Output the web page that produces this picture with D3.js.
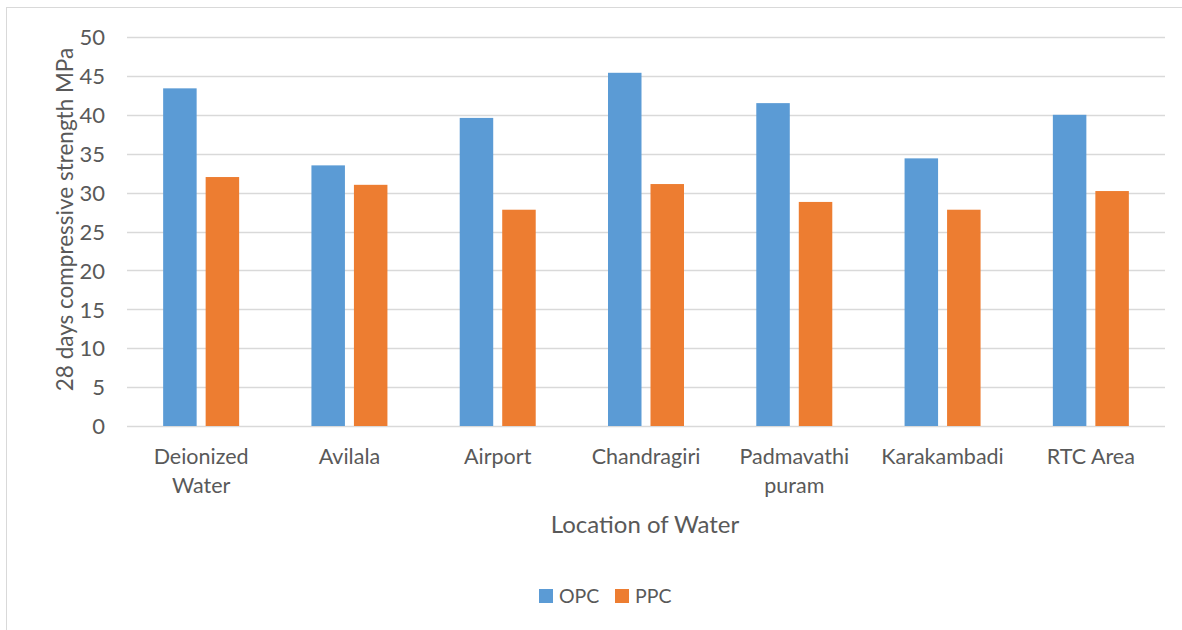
<!DOCTYPE html>
<html>
<head>
<meta charset="utf-8">
<script src="https://cdn.jsdelivr.net/npm/d3@7"></script>
<style>
  html, body { margin: 0; padding: 0; background: #fff; }
  svg { display: block; font-family: Lato, "Open Sans", sans-serif; }
</style>
</head>
<body>
<svg id="chart" width="1182" height="630"></svg>
<script>
// Categories, series and axis ticks
const locations = [["Deionized", "Water"], ["Avilala"], ["Airport"], ["Chandragiri"], ["Padmavathi", "puram"], ["Karakambadi"], ["RTC Area"]];
const seriesNames = ["OPC", "PPC"];
const opcValues = [43.4, 33.5, 39.6, 45.4, 41.5, 34.4, 40.0];
const ppcValues = [32.0, 31.0, 27.8, 31.1, 28.8, 27.8, 30.2];
const yTicks = [0, 5, 10, 15, 20, 25, 30, 35, 40, 45, 50];
const colors = ["#5b9bd5", "#ed7d31"];

const svg = d3.select("#chart");
const plot = { left: 127, right: 1165, top: 37, bottom: 426 };
const textColor = "#595959";

// Outer chart frame
svg.append("rect")
  .attr("x", 6.5).attr("y", 7.5)
  .attr("width", 1182).attr("height", 640)
  .attr("fill", "none").attr("stroke", "#d9d9d9").attr("stroke-width", 1);

const keys = locations.map(d => d.join(" "));
const x0 = d3.scaleBand().domain(keys).range([plot.left, plot.right]);
const y = d3.scaleLinear().domain([0, 50]).range([plot.bottom, plot.top]);

// Horizontal gridlines
svg.append("g").selectAll("line").data(yTicks).join("line")
  .attr("x1", plot.left).attr("x2", plot.right)
  .attr("y1", d => Math.round(y(d)) + 0.5).attr("y2", d => Math.round(y(d)) + 0.5)
  .attr("stroke", "#d9d9d9").attr("stroke-width", 1.3);

// Y axis tick labels
const yAxis = d3.axisLeft(y).tickValues(yTicks).tickSize(0).tickPadding(0);
const gy = svg.append("g").attr("transform", `translate(${plot.left - 22},0)`).call(yAxis);
gy.attr("font-family", null).attr("font-size", null);
gy.select(".domain").remove();
gy.selectAll("text").attr("fill", textColor).attr("font-size", 22).attr("dy", "0.35em");

// Bars
const gap = 9, barW = 33.5;
const rows = keys.map((k, i) => ({ key: k, values: [opcValues[i], ppcValues[i]] }));
const groups = svg.append("g").selectAll("g").data(rows).join("g")
  .attr("transform", d => `translate(${x0(d.key) + x0.bandwidth() / 2},0)`);
groups.selectAll("rect").data(d => d.values.map((v, j) => ({ v, j }))).join("rect")
  .attr("x", d => d.j === 0 ? -gap / 2 - barW : gap / 2)
  .attr("width", barW)
  .attr("y", d => y(d.v))
  .attr("height", d => y(0) - y(d.v))
  .attr("fill", d => colors[d.j]);

// Category labels (may wrap onto two lines)
const xLabels = svg.append("g").selectAll("text").data(locations).join("text")
  .attr("x", (d, i) => x0(keys[i]) + x0.bandwidth() / 2)
  .attr("y", 464)
  .attr("text-anchor", "middle")
  .attr("fill", textColor)
  .attr("font-size", 21.5);
xLabels.selectAll("tspan").data(d => d).join("tspan")
  .attr("x", function () { return this.parentNode.getAttribute("x"); })
  .attr("dy", (d, i) => i === 0 ? 0 : 29)
  .text(d => d);

// Axis titles
svg.append("text")
  .attr("x", 645).attr("y", 533)
  .attr("text-anchor", "middle").attr("fill", textColor).attr("font-size", 24)
  .text("Location of Water");

svg.append("text")
  .attr("transform", `translate(73,${(plot.top + plot.bottom) / 2 - 12}) rotate(-90)`)
  .attr("text-anchor", "middle").attr("fill", textColor).attr("font-size", 22.5)
  .text("28 days compressive strength MPa");

// Legend
const legend = svg.append("g").selectAll("g").data(seriesNames).join("g")
  .attr("transform", (d, i) => `translate(${539 + i * 76},589)`);
legend.append("rect").attr("width", 14).attr("height", 14).attr("fill", (d, i) => colors[i]);
legend.append("text").attr("x", 20).attr("y", 7).attr("dy", "0.36em")
  .attr("fill", textColor).attr("font-size", 19.5).text(d => d);
</script>
</body>
</html>
